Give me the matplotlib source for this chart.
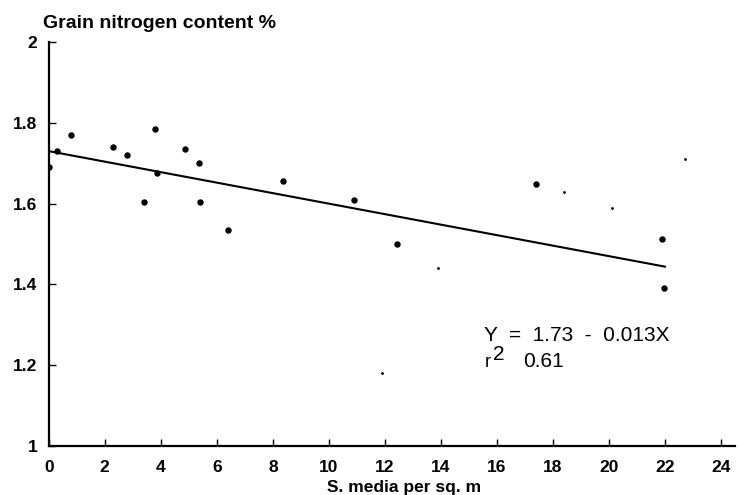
import matplotlib
matplotlib.use("Agg")
import matplotlib.pyplot as plt
import numpy as np

plt.rcParams['font.family'] = ['Liberation Sans', 'DejaVu Sans']

# Weed density (S. media plants per sq. m) and grain nitrogen content (%)
density = [0.0, 0.3, 0.8, 2.3, 2.8, 3.8, 3.85, 3.4, 4.85, 5.35, 5.4, 6.4,
           8.35, 10.9, 12.45, 17.4, 21.9, 21.95]
nitrogen = [1.69, 1.73, 1.77, 1.74, 1.72, 1.785, 1.675, 1.605, 1.735, 1.70,
            1.605, 1.535, 1.655, 1.61, 1.50, 1.648, 1.512, 1.39]

# Faint specks
speck_x = [18.4, 20.1, 22.7, 13.9, 11.9]
speck_y = [1.63, 1.59, 1.71, 1.44, 1.18]

# Fitted regression
intercept = 1.73
slope = -0.013
r_squared = 0.61
fit_x = [0.0, 22.0]

x_ticks = list(range(0, 25, 2))
y_ticks = [1, 1.2, 1.4, 1.6, 1.8, 2]
y_tick_labels = ['1', '1.2', '1.4', '1.6', '1.8', '2']

fig = plt.figure(figsize=(7.38, 4.95), dpi=100)
ax = fig.add_axes([0.066, 0.099, 0.93, 0.816])

ax.plot(density, nitrogen, 'o', color='black', markersize=3.6, zorder=3)
ax.plot(speck_x, speck_y, 'o', color='black', markersize=1.0, zorder=3)
fx = np.array(fit_x)
ax.plot(fx, intercept + slope * fx, color='black', linewidth=1.5)

ax.set_xlim(0, 24.5)
ax.set_ylim(1, 2)
ax.spines['top'].set_visible(False)
ax.spines['right'].set_visible(False)
for s in ('left', 'bottom'):
    ax.spines[s].set_linewidth(1.6)

ax.set_xticks(x_ticks)
ax.set_yticks(y_ticks)
ax.set_yticklabels(y_tick_labels)
ax.tick_params(axis='both', direction='in', length=5, width=1.0,
               labelsize=12.5)
ax.tick_params(axis='x', pad=10)
ax.tick_params(axis='y', pad=8)
for lbl in ax.get_xticklabels() + ax.get_yticklabels():
    lbl.set_fontweight('bold')

fig.text(0.058, 0.953, 'Grain nitrogen content %', fontsize=14,
         fontweight='bold', ha='left', va='center')
fig.text(0.548, 0.016, 'S. media per sq. m', fontsize=12.5,
         fontweight='bold', ha='center', va='center')

eq = f'Y  =  {intercept:.2f}  -  {abs(slope):.3f}X'
ax.text(15.55, 1.26, eq, fontsize=15, ha='left', va='baseline')
ax.text(15.55, 1.196, 'r', fontsize=13, ha='left', va='baseline')
ax.text(15.85, 1.212, '2', fontsize=15, ha='left', va='baseline')
ax.text(16.95, 1.196, f'{r_squared:.2f}', fontsize=15, ha='left',
        va='baseline')

fig.savefig('out.png', dpi=100)
